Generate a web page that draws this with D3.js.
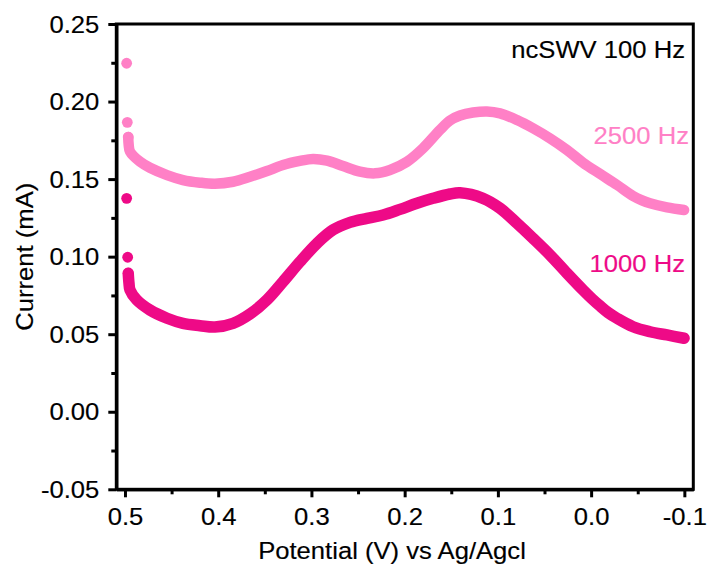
<!DOCTYPE html>
<html>
<head>
<meta charset="utf-8">
<script src="https://cdn.jsdelivr.net/npm/d3@7"></script>
<style>
  body { margin: 0; background: #fff; }
  svg { display: block; }
  text { font-family: "Liberation Sans", Arial, sans-serif; }
</style>
</head>
<body>
<svg id="chart" width="709" height="564"></svg>
<script>
// ---- Data ----
const pot2500 = [0.4982, 0.4975, 0.4965, 0.4960, 0.4946, 0.4839, 0.4732, 0.4549, 0.4378, 0.4195, 0.4035,
  0.3841, 0.3659, 0.3477, 0.3305, 0.3123, 0.2983, 0.2833, 0.2661, 0.2479, 0.2318, 0.2157, 0.1975,
  0.1803, 0.1621, 0.1514, 0.1406, 0.1267, 0.1117, 0.0977, 0.0795, 0.0623, 0.0441, 0.0259, 0.0087, -0.0096,
  -0.0279, -0.0450, -0.0546, -0.0632, -0.0814, -0.0997];
const cur2500 = [0.2247, 0.1866, 0.1771, 0.1720, 0.1677, 0.1612, 0.1573, 0.1526, 0.1494, 0.1477, 0.1470,
  0.1483, 0.1515, 0.1552, 0.1591, 0.1617, 0.1630, 0.1619, 0.1584, 0.1548, 0.1537, 0.1559, 0.1612,
  0.1699, 0.1817, 0.1878, 0.1910, 0.1929, 0.1936, 0.1924, 0.1881, 0.1828, 0.1763, 0.1688, 0.1606, 0.1533,
  0.1462, 0.1391, 0.1363, 0.1344, 0.1318, 0.1301];
const pot1000 = [0.4982, 0.4971, 0.4965, 0.4957, 0.4946, 0.4874, 0.4732, 0.4549, 0.4378, 0.4195, 0.4035,
  0.3841, 0.3659, 0.3477, 0.3305, 0.3123, 0.2940, 0.2769, 0.2586, 0.2404, 0.2232, 0.2050, 0.1868,
  0.1696, 0.1514, 0.1406, 0.1160, 0.0977, 0.0795, 0.0623, 0.0441, 0.0259, 0.0087, -0.0010, -0.0096,
  -0.0181, -0.0279, -0.0450, -0.0632, -0.0814, -0.0997];
const cur1000 = [0.1376, 0.0996, 0.0893, 0.0830, 0.0785, 0.0721, 0.0656, 0.0603, 0.0570, 0.0555, 0.0546,
  0.0570, 0.0630, 0.0721, 0.0838, 0.0967, 0.1086, 0.1172, 0.1221, 0.1247, 0.1269, 0.1305, 0.1344,
  0.1376, 0.1404, 0.1412, 0.1376, 0.1312, 0.1215, 0.1118, 0.1011, 0.0893, 0.0785, 0.0728, 0.0682,
  0.0640, 0.0602, 0.0548, 0.0516, 0.0495, 0.0474];
// number of leading isolated points (spikes at start of scan)
const spikes2500 = 2;
const spikes1000 = 2;

const seriesNames = ["2500 Hz", "1000 Hz"];
const seriesColors = ["#FF80C6", "#EE0A87"];
const titleText = "ncSWV 100 Hz";

const xTicks = [0.5, 0.4, 0.3, 0.2, 0.1, 0.0, -0.1];
const xTickLabels = ["0.5", "0.4", "0.3", "0.2", "0.1", "0.0", "-0.1"];
const xMinor = [0.45, 0.35, 0.25, 0.15, 0.05, -0.05];
const yTicks = [-0.05, 0.00, 0.05, 0.10, 0.15, 0.20, 0.25];
const yTickLabels = ["-0.05", "0.00", "0.05", "0.10", "0.15", "0.20", "0.25"];
const yMinor = [-0.025, 0.025, 0.075, 0.125, 0.175, 0.225];

// ---- Layout ----
const L = 116.3, R = 693.3, T = 24, B = 489.3;
const SX = 1.1; // horizontal glyph stretch seen in reference
const FS = 23.3;
const TSW = 0.15; // slight text weight boost

const svg = d3.select("#chart");
const x = d3.scaleLinear().domain([0.5093, -0.1096]).range([L, R]);
const y = d3.scaleLinear().domain([-0.05, 0.25]).range([B, T]);

// frame
svg.append("rect")
  .attr("x", L).attr("y", T).attr("width", R - L).attr("height", B - T)
  .attr("fill", "none").attr("stroke", "#000").attr("stroke-width", 3);

// series
function drawSeries(pots, curs, nSpikes, color, width) {
  const pts = pots.map((p, i) => [p, curs[i]]);
  const g = svg.append("g");
  const line = d3.line().x(d => x(d[0])).y(d => y(d[1])).curve(d3.curveCatmullRom.alpha(0.5));
  g.append("path")
    .attr("d", line(pts.slice(nSpikes)))
    .attr("fill", "none").attr("stroke", color)
    .attr("stroke-width", width).attr("stroke-linecap", "round").attr("stroke-linejoin", "round");
  g.selectAll("circle").data(pts.slice(0, nSpikes + 1)).join("circle")
    .attr("cx", d => x(d[0])).attr("cy", d => y(d[1])).attr("r", 5.4).attr("fill", color);
}
drawSeries(pot2500, cur2500, spikes2500, seriesColors[0], 10.5);
drawSeries(pot1000, cur1000, spikes1000, seriesColors[1], 11.5);

// axes
const gx = svg.append("g").attr("transform", `translate(0,${B})`)
  .call(d3.axisBottom(x).tickValues(xTicks).tickSize(8).tickSizeOuter(0)
    .tickFormat((d, i) => xTickLabels[i]));
const gxm = svg.append("g").attr("transform", `translate(0,${B})`)
  .call(d3.axisBottom(x).tickValues(xMinor).tickSize(5).tickSizeOuter(0).tickFormat(""));
const gy = svg.append("g").attr("transform", `translate(${L},0)`)
  .call(d3.axisLeft(y).tickValues(yTicks).tickSize(8).tickSizeOuter(0)
    .tickFormat((d, i) => yTickLabels[i]));
const gym = svg.append("g").attr("transform", `translate(${L},0)`)
  .call(d3.axisLeft(y).tickValues(yMinor).tickSize(5).tickSizeOuter(0).tickFormat(""));

[gx, gxm, gy, gym].forEach(g => {
  g.select(".domain").attr("stroke", "#000").attr("stroke-width", 3);
  g.selectAll(".tick line").attr("stroke", "#000").attr("stroke-width", 3);
});
gx.selectAll(".tick text")
  .attr("font-size", FS).attr("fill", "#000").attr("stroke", "#000").attr("stroke-width", TSW)
  .attr("dy", null).attr("y", 36)
  .attr("transform", `scale(${SX},1)`);
gy.selectAll(".tick text")
  .attr("font-size", FS).attr("fill", "#000").attr("stroke", "#000").attr("stroke-width", TSW)
  .attr("dy", "0.35em").attr("x", -17 / SX)
  .attr("transform", `scale(${SX},1)`);

function label(tx, ty, rot, anchor, color, str) {
  svg.append("text")
    .attr("transform", `translate(${tx},${ty})${rot ? ` rotate(${rot})` : ""} scale(${SX},1)`)
    .attr("text-anchor", anchor).attr("font-size", FS)
    .attr("fill", color).attr("stroke", color).attr("stroke-width", TSW)
    .text(str);
}
// axis titles
label(392, 559, 0, "middle", "#000", "Potential (V) vs Ag/Agcl");
label(33, 256.7, -90, "middle", "#000", "Current (mA)");
// annotations
label(685, 57.7, 0, "end", "#000", titleText);
label(689, 144.3, 0, "end", seriesColors[0], seriesNames[0]);
label(685, 271.7, 0, "end", seriesColors[1], seriesNames[1]);
</script>
</body>
</html>
